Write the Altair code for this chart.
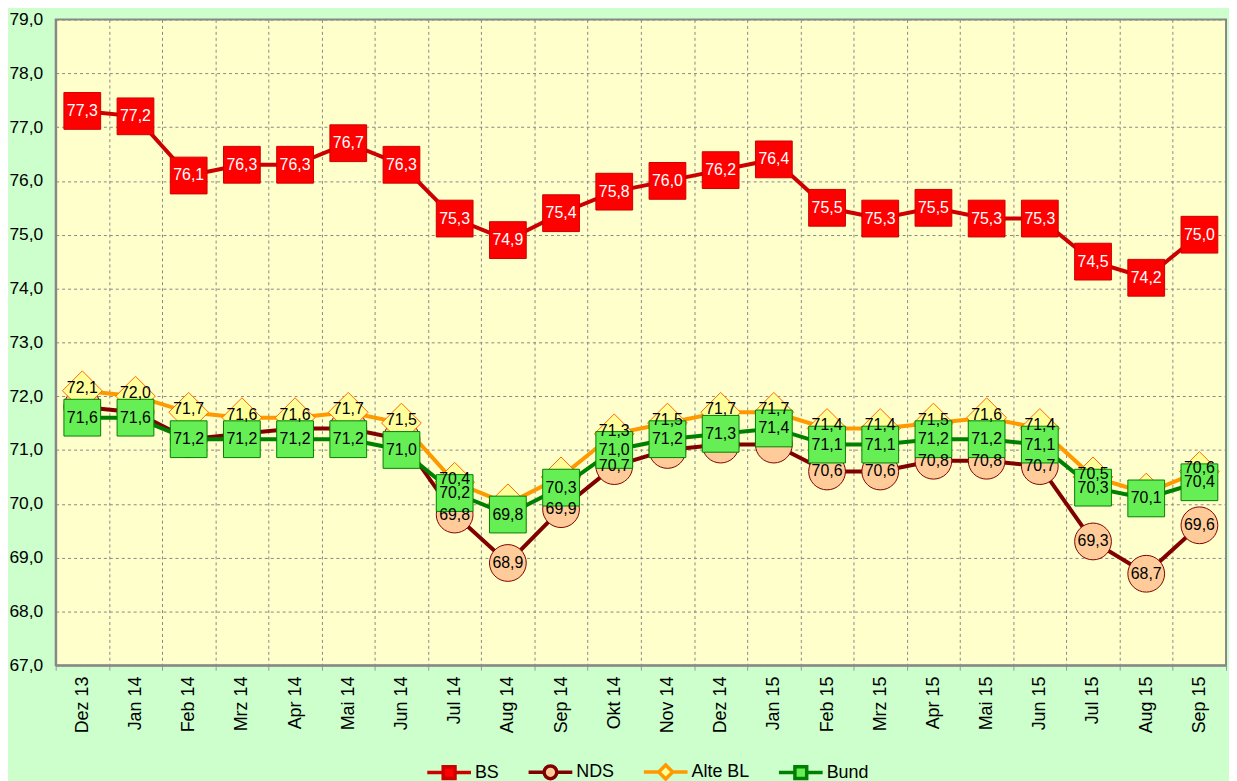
import altair as alt
import pandas as pd

months = ["Dez 13", "Jan 14", "Feb 14", "Mrz 14", "Apr 14", "Mai 14", "Jun 14",
          "Jul 14", "Aug 14", "Sep 14", "Okt 14", "Nov 14", "Dez 14", "Jan 15",
          "Feb 15", "Mrz 15", "Apr 15", "Mai 15", "Jun 15", "Jul 15", "Aug 15", "Sep 15"]

bs = [77.3, 77.2, 76.1, 76.3, 76.3, 76.7, 76.3, 75.3, 74.9, 75.4, 75.8,
      76.0, 76.2, 76.4, 75.5, 75.3, 75.5, 75.3, 75.3, 74.5, 74.2, 75.0]
nds = [71.8, 71.7, 71.2, 71.3, 71.4, 71.4, 71.2, 69.8, 68.9, 69.9, 70.7,
       71.0, 71.1, 71.1, 70.6, 70.6, 70.8, 70.8, 70.7, 69.3, 68.7, 69.6]
alte_bl = [72.1, 72.0, 71.7, 71.6, 71.6, 71.7, 71.5, 70.4, 70.0, 70.5, 71.3,
           71.5, 71.7, 71.7, 71.4, 71.4, 71.5, 71.6, 71.4, 70.5, 70.2, 70.6]
bund = [71.6, 71.6, 71.2, 71.2, 71.2, 71.2, 71.0, 70.2, 69.8, 70.3, 71.0,
        71.2, 71.3, 71.4, 71.1, 71.1, 71.2, 71.2, 71.1, 70.3, 70.1, 70.4]

# which data labels the reference shows (1 = shown, 0 = removed)
bs_shown = [1] * 22
nds_shown = [0, 0, 0, 0, 0, 0, 0, 1, 1, 1, 1, 0, 0, 0, 1, 1, 1, 1, 1, 1, 1, 1]
alte_bl_shown = [1, 1, 1, 1, 1, 1, 1, 1, 0, 0, 1, 1, 1, 1, 1, 1, 1, 1, 1, 1, 0, 1]
bund_shown = [1] * 22

series_names = ["BS", "NDS", "Alte BL", "Bund"]
series_values = [bs, nds, alte_bl, bund]
series_shown = [bs_shown, nds_shown, alte_bl_shown, bund_shown]
line_colors = ["#CC0000", "#800000", "#FF9900", "#008000"]
fill_colors = ["#FF0000", "#FFCC99", "#FFFF99", "#66EE55"]
border_colors = ["#CC0000", "#800000", "#FF6600", "#008000"]
marker_shapes = ["square", "circle", "diamond", "square"]
marker_sizes = [1369, 1369, 1600, 1369]
text_colors = ["white", "black", "black", "black"]
text_dy = [0, 0, -3, 0]
legend_paths = [
    "M-1,0H-0.27M0.27,0H1M-0.27,-0.27H0.27V0.27H-0.27Z",
    "M-1,0H-0.29M0.29,0H1M-0.29,0A0.29,0.29,0,1,1,0.29,0A0.29,0.29,0,1,1,-0.29,0Z",
    "M-1,0H-0.32M0.32,0H1M-0.32,0L0,-0.32L0.32,0L0,0.32Z",
    "M-1,0H-0.27M0.27,0H1M-0.27,-0.27H0.27V0.27H-0.27Z",
]
y_ticks = list(range(67, 80))

rows = []
for name, vals, shown in zip(series_names, series_values, series_shown):
    for m, v, s in zip(months, vals, shown):
        rows.append({"month": m, "series": name, "value": v, "shown": s,
                     "label": f"{v:.1f}".replace(".", ",")})
df = pd.DataFrame(rows)

x_enc = alt.X(
    "month:N", sort=months, bandPosition=0.5,
    scale=alt.Scale(type="band", domain=months, paddingInner=0, paddingOuter=0),
    axis=alt.Axis(title=None, labelAngle=270, labelAlign="right", labelBaseline="middle",
                  labelFontSize=18, labelPadding=6, labelColor="black",
                  tickBand="extent", tickSize=5, tickColor="#999999",
                  grid=True, gridDash=[3, 3], gridColor="#888888",
                  domainColor="#888888", domainWidth=2),
)
y_enc = alt.Y(
    "value:Q",
    scale=alt.Scale(domain=[67, 79], nice=False, zero=False),
    axis=alt.Axis(title=None, values=y_ticks,
                  labelExpr="replace(format(datum.value, '.1f'), '.', ',')",
                  labelFontSize=17.5, labelPadding=13, labelColor="black", ticks=False,
                  grid=True, gridDash=[3, 3], gridColor="#888888",
                  domainColor="#888888", domainWidth=2),
)

base = alt.Chart(df)
layers = []
for i, name in enumerate(series_names):
    sub = base.transform_filter(alt.datum.series == name)
    layers.append(sub.mark_line(color=line_colors[i], strokeWidth=4).encode(x=x_enc, y=y_enc))
    layers.append(sub.mark_point(shape=marker_shapes[i], size=marker_sizes[i], filled=True,
                                 fill=fill_colors[i], stroke=border_colors[i], strokeWidth=1,
                                 opacity=1).encode(x=x_enc, y=y_enc))
for i, name in enumerate(series_names):
    sub = base.transform_filter((alt.datum.series == name) & (alt.datum.shown == 1))
    layers.append(sub.mark_text(fontSize=16, color=text_colors[i], align="center",
                                baseline="middle", dy=text_dy[i]).encode(
        x=x_enc, y=y_enc, text="label:N"))

leg = alt.Legend(title=None, orient="none", direction="horizontal", legendX=372, legendY=733)
legend_layer = base.transform_filter("false").mark_point(filled=True, opacity=1).encode(
    x=x_enc, y=y_enc,
    shape=alt.Shape("series:N", scale=alt.Scale(domain=series_names, range=legend_paths),
                    legend=leg),
    fill=alt.Fill("series:N", scale=alt.Scale(domain=series_names, range=fill_colors),
                  legend=leg),
    stroke=alt.Stroke("series:N", scale=alt.Scale(domain=series_names, range=line_colors),
                      legend=leg),
)
layers.append(legend_layer)

chart = alt.layer(*layers).properties(
    width=1178, height=650,
    autosize=alt.AutoSizeParams(type="none"),
    padding={"left": 48, "top": 9, "right": 3, "bottom": 114},
).configure(
    background="#CCFFCC",
    font="Liberation Sans",
).configure_view(
    fill="#FFFFCC", stroke="#888888", strokeWidth=2,
).configure_legend(
    symbolSize=1936, symbolStrokeWidth=3.5,
    labelFontSize=18, labelColor="black", labelOffset=2, columnPadding=22,
    symbolOpacity=1,
)

chart.save("out.html", embed_options={"renderer": "svg", "actions": False})
